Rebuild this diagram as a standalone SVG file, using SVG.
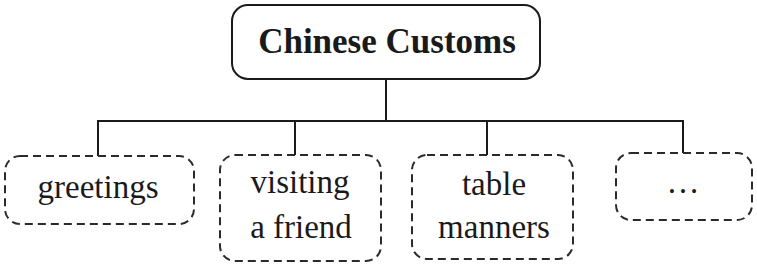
<svg xmlns="http://www.w3.org/2000/svg" width="757" height="265" viewBox="0 0 757 265">
<style>
.root{fill:#fff;stroke:#1a1a1a;stroke-width:2}
.leaf{fill:#fff;stroke:#2a2a2a;stroke-width:2;stroke-dasharray:8 5}
.conn{fill:none;stroke:#1a1a1a;stroke-width:2}
</style>
<rect x="0" y="0" width="757" height="265" fill="#fff"/>
<g id="connectors">
<path class="conn" d="M386 79V121M97 121H684M98 120V156M295 120V155M487 120V155M683 120V153"/>
</g>
<g id="root">
<rect class="root" x="232" y="5" width="308" height="74" rx="16"/>
<text x="387" y="53" font-family="'Liberation Serif', serif" font-size="35" font-weight="bold" fill="#1a1a1a" text-anchor="middle">Chinese Customs</text>
</g>
<g id="greetings">
<rect class="leaf" x="5" y="156" width="189" height="68" rx="15"/>
<text x="98" y="198" font-family="'Liberation Serif', serif" font-size="33" fill="#1a1a1a" text-anchor="middle">greetings</text>
</g>
<g id="visiting">
<rect class="leaf" x="220" y="155" width="161" height="106" rx="15"/>
<text x="300" y="193" font-family="'Liberation Serif', serif" font-size="33" fill="#1a1a1a" text-anchor="middle">visiting</text>
<text x="301" y="238" font-family="'Liberation Serif', serif" font-size="33" fill="#1a1a1a" text-anchor="middle">a friend</text>
</g>
<g id="table">
<rect class="leaf" x="412" y="155" width="161" height="104" rx="15"/>
<text x="494" y="195" font-family="'Liberation Serif', serif" font-size="33" fill="#1a1a1a" text-anchor="middle">table</text>
<text x="494" y="238" font-family="'Liberation Serif', serif" font-size="33" fill="#1a1a1a" text-anchor="middle">manners</text>
</g>
<g id="more">
<rect class="leaf" x="616" y="153" width="136" height="67" rx="15"/>
<text x="683" y="193" font-family="'Liberation Serif', serif" font-size="33" fill="#1a1a1a" text-anchor="middle">…</text>
</g>
</svg>
